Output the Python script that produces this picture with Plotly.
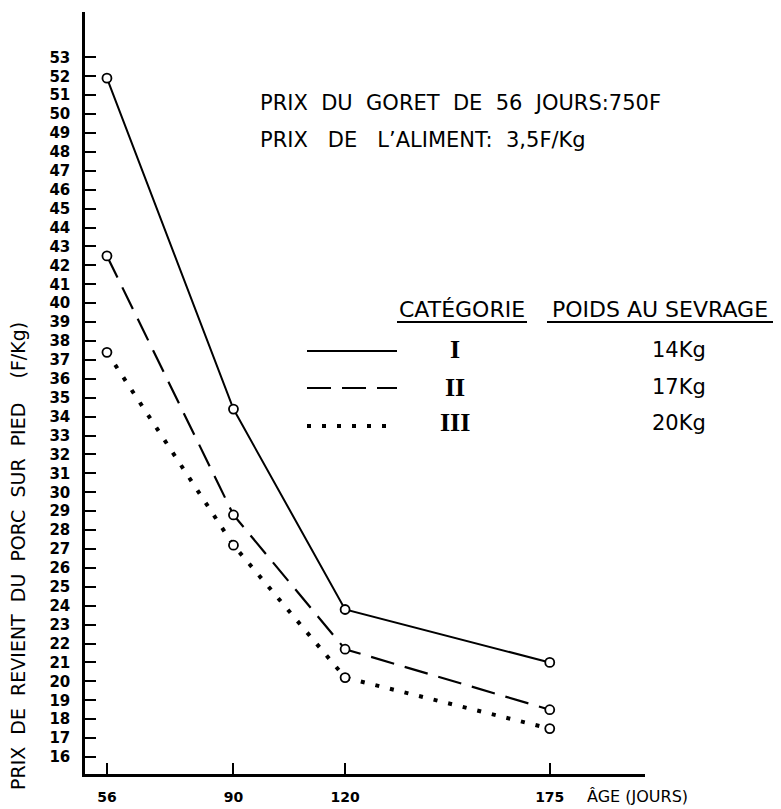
import plotly.graph_objects as go

# ---- data ----
ages = [56, 90, 120, 175]
cat_I = [51.9, 34.4, 23.8, 21.0]
cat_II = [42.5, 28.8, 21.7, 18.5]
cat_III = [37.4, 27.2, 20.2, 17.5]
x_ticks = [56, 90, 120, 175]
y_ticks = [16, 17, 18, 19, 20, 21, 22, 23, 24, 25, 26, 27, 28, 29, 30, 31, 32, 33, 34,
           35, 36, 37, 38, 39, 40, 41, 42, 43, 44, 45, 46, 47, 48, 49, 50, 51, 52, 53]
categories = ["I", "II", "III"]
weights = ["14Kg", "17Kg", "20Kg"]

OFF = 8  # page body margin
W, H = 781 - OFF, 809 - OFF
L, R, T, B = 85, 645, 12, 774  # plot area in page pixels


def px(x):
    return (x - L) / (R - L)


def py(y):
    return (B - y) / (B - T)


FONT = "DejaVu Sans"
NB = "\u00a0"

fig = go.Figure()

styles = [
    dict(dash="solid", width=2),
    dict(dash="24px,11px", width=2.2),
    dict(dash="4px,11px", width=4),
]
for vals, st, name in zip([cat_I, cat_II, cat_III], styles, categories):
    fig.add_trace(go.Scatter(
        x=ages, y=vals, mode="lines",
        line=dict(color="black", width=st["width"], dash=st["dash"]),
        name=name, showlegend=False, hoverinfo="skip"))
for vals, name in zip([cat_I, cat_II, cat_III], categories):
    fig.add_trace(go.Scatter(
        x=ages, y=vals, mode="markers",
        marker=dict(symbol="circle", size=9, color="white",
                    line=dict(color="black", width=1.8)),
        name=name, showlegend=False))

annotations = []
sp2 = NB * 2
sp3 = NB * 3
sp4 = NB * 4
# header texts
annotations.append(dict(
    x=px(258), y=py(103), xref="paper", yref="paper", xanchor="left", yanchor="middle",
    text=f"PRIX{sp2}DU{sp2}GORET{sp2}DE{sp2}56{sp2}JOURS:750F",
    showarrow=False, font=dict(family=FONT, size=21, color="black")))
annotations.append(dict(
    x=px(258), y=py(140), xref="paper", yref="paper", xanchor="left", yanchor="middle",
    text=f"PRIX{sp3}DE{sp3}L\u2019ALIMENT:{sp2}3,5F/Kg",
    showarrow=False, font=dict(family=FONT, size=21, color="black")))
# legend table
annotations.append(dict(
    x=px(462), y=py(309), xref="paper", yref="paper", xanchor="center", yanchor="middle",
    text="CATÉGORIE", showarrow=False, font=dict(family=FONT, size=22, color="black")))
annotations.append(dict(
    x=px(660), y=py(309), xref="paper", yref="paper", xanchor="center", yanchor="middle",
    text="POIDS AU SEVRAGE", showarrow=False, font=dict(family=FONT, size=22, color="black")))
row_y = [350, 387, 423]
for cat, wgt, ry in zip(categories, weights, row_y):
    annotations.append(dict(
        x=px(455), y=py(ry), xref="paper", yref="paper", xanchor="center", yanchor="middle",
        text=f"<b>{cat}</b>", showarrow=False,
        font=dict(family="Liberation Serif", size=26, color="black")))
    annotations.append(dict(
        x=px(679), y=py(ry), xref="paper", yref="paper", xanchor="center", yanchor="middle",
        text=wgt, showarrow=False, font=dict(family=FONT, size=21, color="black")))
# axis titles
annotations.append(dict(
    x=px(18), y=py(556), xref="paper", yref="paper", xanchor="center", yanchor="middle",
    textangle=-90,
    text=f"PRIX{sp2}DE{sp2}REVIENT{sp2}DU{sp2}PORC{sp2}SUR{sp2}PIED{sp4}(F/Kg)",
    showarrow=False, font=dict(family=FONT, size=19, color="black")))
annotations.append(dict(
    x=px(585), y=py(796), xref="paper", yref="paper", xanchor="left", yanchor="middle",
    text="ÂGE (JOURS)", showarrow=False, font=dict(family=FONT, size=16, color="black")))

shapes = []
# legend line samples
sample_rows = [351, 388, 426]
for st, sy in zip(styles, sample_rows):
    shapes.append(dict(type="line", xref="paper", yref="paper",
                       x0=px(307), x1=px(397), y0=py(sy), y1=py(sy),
                       line=dict(color="black", width=st["width"], dash=st["dash"])))
# header underlines
for x0, x1 in [(397, 527), (547, 776)]:
    shapes.append(dict(type="line", xref="paper", yref="paper",
                       x0=px(x0), x1=px(x1), y0=py(322), y1=py(322),
                       line=dict(color="black", width=2)))

fig.update_layout(
    width=W, height=H,
    margin=dict(l=L - OFF, r=W - (R - OFF), t=T - OFF, b=H - (B - OFF), pad=0,
                autoexpand=False),
    paper_bgcolor="white", plot_bgcolor="white",
    showlegend=False,
    annotations=annotations, shapes=shapes,
    font=dict(family=FONT, color="black"),
)
fig.update_xaxes(
    range=[50.1, 200.6], tickvals=x_ticks, ticktext=[str(v) for v in x_ticks],
    showline=True, linecolor="black", linewidth=2.5, mirror=False, automargin=False,
    ticks="inside", ticklen=11, tickwidth=1.5, tickcolor="black",
    showgrid=False, zeroline=False, ticklabelstandoff=8,
    tickfont=dict(family=FONT, size=14, color="black", weight="bold"),
)
fig.update_yaxes(
    range=[15.1, 55.4], tickvals=y_ticks, ticktext=[str(v) for v in y_ticks],
    showline=True, linecolor="black", linewidth=2.5, mirror=False, automargin=False,
    ticks="inside", ticklen=11, tickwidth=1.5, tickcolor="black",
    showgrid=False, zeroline=False, ticklabelstandoff=9,
    tickfont=dict(family=FONT, size=15, color="black", weight="bold"),
)

fig.write_html("out.html")
